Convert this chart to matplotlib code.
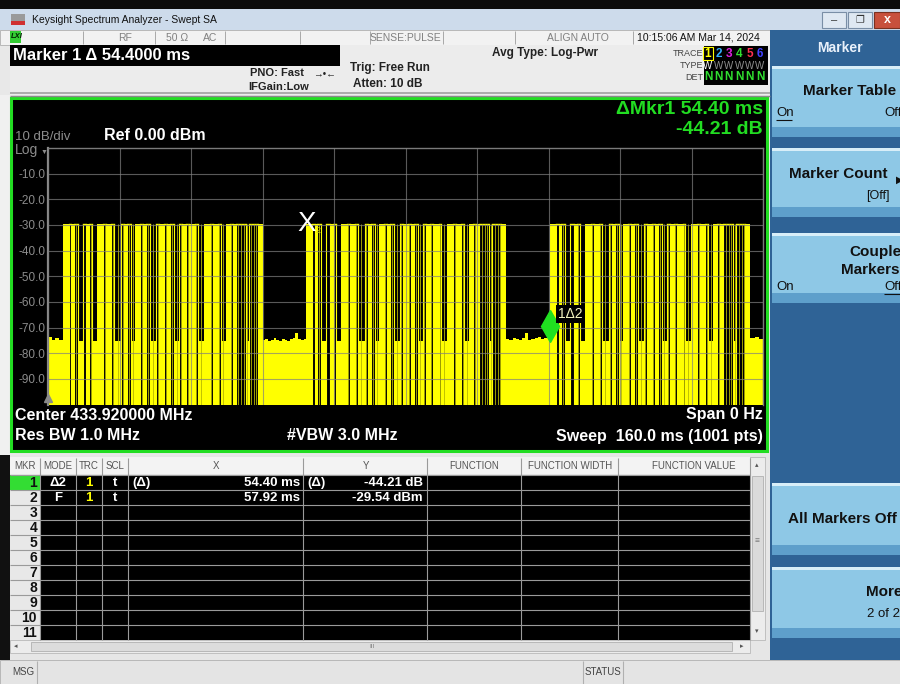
import numpy as np
import matplotlib
matplotlib.use("Agg")
import matplotlib.pyplot as plt
from matplotlib.patches import Rectangle
from matplotlib import transforms

plt.rcParams['font.family'] = ['Liberation Sans', 'DejaVu Sans']

# sweep settings (zero span, time domain)
sweep_ms = 160.0
ref_dbm = 0.0
db_per_div = 10

# one OOK code word, repeated three times in the sweep
# M = fast toggling (solid yellow), H = carrier on, L = carrier off (noise)
burst_start_ms = [3.3, 57.8, 112.4]
pulse_kind = list("MHMHLHMHLM" "HMHLHMHLMH" "MHLHMHMHLH" "MHMHLMHMHL" "MHMHLHM")
pulse_ms = [1.34, 0.56, 0.56, 0.90, 1.12, 0.78, 0.67, 0.67, 1.12, 1.34,
            0.67, 1.12, 0.67, 1.57, 0.67, 0.67, 0.90, 0.90, 1.12, 0.67,
            0.67, 0.90, 1.34, 0.67, 1.12, 0.67, 0.67, 0.90, 1.12, 0.67,
            0.90, 0.67, 1.34, 0.56, 1.34, 1.34, 0.67, 1.12, 0.67, 1.12,
            0.90, 0.67, 0.67, 2.24, 0.67, 2.01, 1.12]
# short glitches inside the code word (ms from burst start), drawn as thin lines
glitch_ms = [2.9, 6.3, 9.4, 11.2, 12.3, 13.4, 14.9, 15.8, 17.7, 19.1, 20.3,
             21.3, 23.0, 24.5, 25.5, 26.4, 28.0, 29.9, 30.9, 33.2, 35.0, 35.9,
             37.7, 39.3, 39.9, 40.5, 41.3, 42.2, 42.8, 43.3]
on_level = -29.6
burst_noise = -75.4

# noise floor between the bursts (dBm)
gap0_noise = [-73.5, -74.8, -74.2, -74.9]
gap1_noise = [-75.0, -74.6, -75.3, -74.8, -74.2, -74.9, -75.1, -74.5,
              -74.7, -75.2, -74.4, -73.9, -72.3, -74.6, -75.0, -74.3]
gap2_noise = [-74.3, -74.8, -74.1, -74.6, -74.9, -74.2, -72.2, -74.7,
              -74.4, -74.0, -73.8, -74.5, -74.1, -73.6]
gap3_noise = [-74.2, -73.8, -74.6]

# markers
mkr2_ms = 57.92
mkr2_dbm = -29.54
delta_ms = 54.40
delta_db = -44.21

YEL = '#ffff00'
GRN = '#22dd22'
floor = ref_dbm - 10 * db_per_div

fig = plt.figure(figsize=(9, 6.84), dpi=100)

# background axes in screen pixels
bg = fig.add_axes([0, 0, 1, 1])
bg.set_xlim(0, 900)
bg.set_ylim(684, 0)
bg.axis('off')


def box(x, y, w, h, fc, ec='none', lw=0, z=1):
    bg.add_patch(Rectangle((x, y), w, h, facecolor=fc, edgecolor=ec, linewidth=lw, zorder=z))


def txt(x, y, s, size=8, color='black', weight='normal', ha='left', **kw):
    bg.text(x, y, s, fontsize=size, color=color, fontweight=weight, ha=ha, va='center', zorder=5, **kw)


def hline(x0, x1, y, color, lw=0.8, z=3):
    bg.plot([x0, x1], [y, y], color=color, lw=lw, zorder=z, solid_capstyle='butt')


def vline(x, y0, y1, color, lw=0.8, z=3):
    bg.plot([x, x], [y0, y1], color=color, lw=lw, zorder=z, solid_capstyle='butt')


box(0, 0, 900, 684, '#e8e8e8', z=0)
box(0, 0, 900, 9, '#0c0c0c')

# window title bar
box(0, 9, 900, 21, '#cddbeb')
box(11, 14, 14, 11, '#9a9a9a')
box(11, 21, 14, 4, '#d03030')
txt(32, 20, 'Keysight Spectrum Analyzer - Swept SA', size=7.5, color='#111111')
box(822, 12, 24, 16, '#dfe8f2', ec='#7a8ea6', lw=0.8)
box(848, 12, 24, 16, '#dfe8f2', ec='#7a8ea6', lw=0.8)
box(874, 12, 26, 16, '#c8503c', ec='#7a3020', lw=0.8)
txt(834, 20, '\u2013', size=8, color='#333333', ha='center')
txt(860, 20, '\u2750', size=7, color='#333333', ha='center')
txt(887, 20, 'x', size=9, color='white', weight='bold', ha='center')

# status row
box(0, 30, 770, 15, '#f2f2f2', ec='#b0b0b0', lw=0.6)
for sx in [83, 155, 225, 300, 370, 443, 515, 633]:
    vline(sx, 31, 44, '#a8a8a8', lw=0.7)
box(10, 31, 11, 12, '#33cc33')
txt(10.5, 37, 'LXI', size=5.5, color='#002200', weight='bold', style='italic')
txt(118, 38, 'RF', size=7.5, color='#808080')
txt(166, 38, '50 \u03a9', size=7.5, color='#808080')
txt(203, 38, 'AC', size=7.5, color='#808080')
txt(441, 38, 'SENSE:PULSE', size=7.5, color='#808080', ha='right')
txt(578, 38, 'ALIGN AUTO', size=7.5, color='#808080', ha='center')
txt(637, 38, '10:15:06 AM Mar 14, 2024', size=7.5, color='#111111')

# settings panel
box(10, 45, 760, 50, '#ececec')
hline(10, 770, 93, '#a0a0a0', lw=1.2)
box(10, 45, 330, 21, '#000000')
txt(13, 56, f'Marker 1 \u0394 {delta_ms:.4f} ms', size=12, color='white', weight='bold')
txt(250, 73, 'PNO: Fast', size=8, color='#222222', weight='bold')
txt(313, 73, '\u2192\u2022\u2190', size=7, color='#222222')
txt(248, 87, 'IFGain:Low', size=8, color='#222222', weight='bold')
txt(350, 68, 'Trig: Free Run', size=8.5, color='#222222', weight='bold')
txt(353, 84, 'Atten: 10 dB', size=8.5, color='#222222', weight='bold')
txt(492, 53, 'Avg Type: Log-Pwr', size=8.5, color='#222222', weight='bold')
txt(703, 53, 'TRACE', size=6.5, color='#444444', ha='right')
txt(703, 65, 'TYPE', size=6.5, color='#444444', ha='right')
txt(703, 77, 'DET', size=6.5, color='#444444', ha='right')
box(704, 46, 64, 39, '#000000')
trace_cols = [YEL, '#30b0ff', '#e020e0', '#30e030', '#ff3050', '#4040ff']
for i, c in enumerate(trace_cols):
    txt(708 + i * 10.4, 54, str(i + 1), size=8.5, color=c, weight='bold', ha='center')
    txt(708 + i * 10.4, 66, 'W', size=7, color='white' if i == 0 else '#909090', ha='center')
    txt(708 + i * 10.4, 77, 'N', size=8.5, color='#30e030', weight='bold', ha='center')
box(703, 47, 10, 13, 'none', ec=YEL, lw=0.8, z=4)

# right soft key panel
box(770, 30, 130, 630, '#2f6396')
txt(840, 48, 'Marker', size=10, color='#e8f0fa', weight='bold', ha='center')
for (y0, y1) in [(66, 137), (148, 217), (233, 303), (483, 555), (567, 638)]:
    box(772, y0, 128, y1 - y0, '#8ec8e6')
    box(772, y0, 128, 3, '#d8eef8')
    box(772, y1 - 10, 128, 10, '#5e9fcb')
txt(803, 91, 'Marker Table', size=11, weight='bold', color='#111111')
txt(776, 113, 'On', size=9.5, color='#111111')
hline(776, 792, 120, '#111111', lw=0.8)
txt(884, 113, 'Off', size=9.5, color='#111111')
txt(789, 174, 'Marker Count', size=11, weight='bold', color='#111111')
txt(896, 180, '\u25b6', size=7, color='#111111')
txt(866, 196, '[Off]', size=9, color='#111111')
txt(849, 252, 'Couple', size=11, weight='bold', color='#111111')
txt(841, 270, 'Markers', size=11, weight='bold', color='#111111')
txt(776, 287, 'On', size=9.5, color='#111111')
txt(884, 287, 'Off', size=9.5, color='#111111')
hline(884, 900, 294, '#111111', lw=0.8)
txt(788, 519, 'All Markers Off', size=11, weight='bold', color='#111111')
txt(866, 592, 'More', size=11, weight='bold', color='#111111')
txt(867, 614, '2 of 2', size=9.5, color='#111111')

# graph frame
box(0, 95, 10, 360, '#f0f0f0')
hline(10, 770, 95.5, '#8a8a8a', lw=1)
box(11, 97.5, 756, 353, '#000000', ec=GRN, lw=2.2, z=1)
txt(763, 110, f'\u0394Mkr1 {delta_ms:.2f} ms', size=14, color=GRN, weight='bold', ha='right')
txt(763, 130, f'{delta_db:.2f} dB', size=14, color=GRN, weight='bold', ha='right')
txt(15, 137, f'{db_per_div} dB/div', size=9.5, color='#8c8c8c')
txt(104, 136, f'Ref {ref_dbm:.2f} dBm', size=11.5, color='white', weight='bold')
txt(15, 150, 'Log', size=10, color='#8c8c8c')
txt(41, 152, '\u25bc', size=5, color='#8c8c8c')
txt(15, 415, 'Center 433.920000 MHz', size=11.5, color='white', weight='bold')
txt(15, 436, 'Res BW 1.0 MHz', size=11.5, color='white', weight='bold')
txt(287, 436, '#VBW 3.0 MHz', size=11.5, color='white', weight='bold')
txt(763, 415, 'Span 0 Hz', size=11.5, color='white', weight='bold', ha='right')
txt(763, 436, f'Sweep  {sweep_ms:.1f} ms (1001 pts)', size=11.5, color='white', weight='bold', ha='right')

# marker table
box(0, 455, 10, 205, '#111111')
box(10, 455, 760, 205, '#e6e6e6')
box(10, 457, 740, 17, '#f3f3f3')
col_edges = [10, 40, 76, 102, 128, 303, 427, 521, 618, 750]
heads = [('MKR', 25), ('MODE', 58), ('TRC', 89), ('SCL', 115), ('X', 216), ('Y', 366),
         ('FUNCTION', 474), ('FUNCTION WIDTH', 570), ('FUNCTION VALUE', 694)]
for h, hx in heads:
    txt(hx, 466, h, size=7, color='#555555', ha='center')
box(40, 475, 710, 165, '#000000')
for i in range(11):
    ry = 475 + 15 * i
    box(10, ry, 30, 15, '#33dd33' if i == 0 else '#e8e8e8')
    txt(37, ry + 8, str(i + 1), size=10, weight='bold', color='#111111', ha='right')
    hline(10, 750, ry, '#9a9a9a', lw=0.8)
for cx in col_edges[1:]:
    vline(cx, 458, 640, '#9a9a9a', lw=0.8)
# row 1: delta marker, row 2: fixed marker
txt(58, 483, '\u03942', size=9.5, color='white', weight='bold', ha='center')
txt(89, 483, '1', size=9.5, color=YEL, weight='bold', ha='center')
txt(115, 483, 't', size=9.5, color='white', weight='bold', ha='center')
txt(132, 483, '(\u0394)', size=9.5, color='white', weight='bold')
txt(300, 483, f'{delta_ms:.2f} ms', size=9.5, color='white', weight='bold', ha='right')
txt(307, 483, '(\u0394)', size=9.5, color='white', weight='bold')
txt(423, 483, f'{delta_db:.2f} dB', size=9.5, color='white', weight='bold', ha='right')
txt(58, 498, 'F', size=9.5, color='white', weight='bold', ha='center')
txt(89, 498, '1', size=9.5, color=YEL, weight='bold', ha='center')
txt(115, 498, 't', size=9.5, color='white', weight='bold', ha='center')
txt(300, 498, f'{mkr2_ms:.2f} ms', size=9.5, color='white', weight='bold', ha='right')
txt(423, 498, f'{mkr2_dbm:.2f} dBm', size=9.5, color='white', weight='bold', ha='right')
# scroll bars
box(750, 457, 15, 183, '#ececec', ec='#b8b8b8', lw=0.6)
box(752, 476, 11, 135, '#dadada', ec='#b0b0b0', lw=0.6)
txt(757, 466, '\u25b4', size=5, color='#555555', ha='center')
txt(757, 632, '\u25be', size=5, color='#555555', ha='center')
txt(757, 541, '\u2261', size=6, color='#777777', ha='center')
box(10, 640, 740, 13, '#ececec', ec='#b8b8b8', lw=0.6)
box(31, 642, 701, 9, '#dcdcdc', ec='#b0b0b0', lw=0.6)
txt(16, 647, '\u25c2', size=5, color='#555555', ha='center')
txt(742, 647, '\u25b8', size=5, color='#555555', ha='center')
txt(372, 647, 'III', size=4.5, color='#777777', ha='center')

# message bar
box(0, 660, 900, 24, '#e4e4e4', ec='#b0b0b0', lw=0.6)
vline(37, 661, 684, '#b0b0b0')
vline(583, 661, 684, '#b0b0b0')
vline(623, 661, 684, '#b0b0b0')
txt(12, 672, 'MSG', size=7, color='#444444')
txt(585, 672, 'STATUS', size=7, color='#444444')

# --- the trace graticule ---
ax = fig.add_axes([48 / 900, 1 - 404.5 / 684, 715 / 900, 256.5 / 684])
ax.set_facecolor('black')
ax.set_xlim(0, sweep_ms)
ax.set_ylim(floor, ref_dbm)
ax.set_xticks(np.arange(0, sweep_ms + 1, sweep_ms / 10))
ax.set_xticklabels([])
yt = np.arange(ref_dbm - 90, ref_dbm, db_per_div)
ax.set_yticks(yt)
ax.set_yticklabels([f'{v:.1f}' for v in yt], fontsize=8.5, color='#8c8c8c')
ax.tick_params(length=0, pad=2)
ax.grid(True, color='#808080', lw=0.8, alpha=0.7)
ax.set_axisbelow(False)
for side in ['top', 'right']:
    ax.spines[side].set_color('#7a7a7a')
    ax.spines[side].set_linewidth(1)
ax.spines['left'].set_color('#8a8a8a')
ax.spines['left'].set_linewidth(1.6)
ax.spines['bottom'].set_visible(False)

# bursts
burst_end_ms = []
for b0 in burst_start_ms:
    t = b0
    for kind, dur in zip(pulse_kind, pulse_ms):
        a, b = t, t + dur
        if kind == 'M':
            ax.fill_between([a, b], floor, on_level, color=YEL, lw=0)
        elif kind == 'L':
            ax.fill_between([a, b], floor, burst_noise, color=YEL, lw=0)
        else:
            ax.plot([a, b], [on_level, on_level], color=YEL, lw=1)
            ax.vlines([a, b], floor, on_level, color=YEL, lw=0.8)
        t = b
    burst_end_ms.append(t)
    ax.vlines([b0 + g for g in glitch_ms], floor, on_level, color='#b8b800', lw=0.6)

# noise floor in the gaps
gap_edges = [(0, burst_start_ms[0]), (burst_end_ms[0], burst_start_ms[1]),
             (burst_end_ms[1], burst_start_ms[2]), (burst_end_ms[2], sweep_ms)]
for (g0, g1), vals in zip(gap_edges, [gap0_noise, gap1_noise, gap2_noise, gap3_noise]):
    edges = np.linspace(g0, g1, len(vals) + 1)
    ax.stairs(vals, edges, baseline=floor, fill=True, color=YEL, lw=0)

# fixed marker 2 (X) and delta marker 1 (diamond)
ax.text(mkr2_ms, mkr2_dbm, 'X', fontsize=20, color='white', ha='center', va='center', zorder=6)
ax.annotate('2', (mkr2_ms, mkr2_dbm), xytext=(11, -7), textcoords='offset pixels',
            fontsize=6.5, color='#d8d800', ha='center', va='center', zorder=6)
m1_ms = mkr2_ms + delta_ms
m1_dbm = mkr2_dbm + delta_db
up = transforms.offset_copy(ax.transData, fig=fig, x=0, y=11, units='dots')
ax.plot(m1_ms, m1_dbm, marker='d', ms=16, color='#20e020', mec='#20e020', transform=up, zorder=6)
ax.annotate('1\u03942', (m1_ms, m1_dbm), xytext=(8, 23), textcoords='offset pixels',
            fontsize=10, color='#f4f4c0', ha='left', va='center', zorder=6,
            bbox=dict(boxstyle='square,pad=0.15', fc='black', ec='none'))
ax.plot(0, floor + 2.5, marker='^', ms=6, color='#8a8a8a', clip_on=False, zorder=6)

fig.savefig('out.png', dpi=100)
